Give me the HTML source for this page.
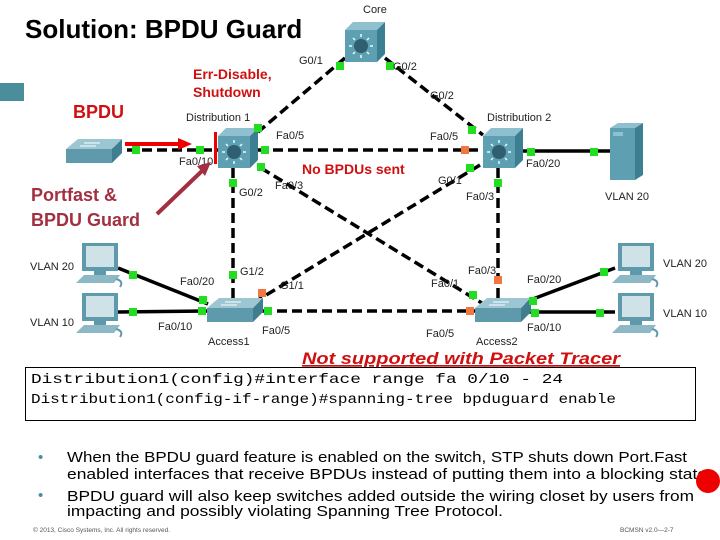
<!DOCTYPE html>
<html><head><meta charset="utf-8"><style>
body{margin:0;background:#fff}
svg{display:block}
text{font-family:"Liberation Sans",sans-serif}
.p{font-size:11px;fill:#222}
</style></head><body>
<svg width="720" height="540" viewBox="0 0 720 540">
<defs>
<g id="ms"><polygon points="0,8 8,0 40,0 32,8" fill="#8fc0cf"/><polygon points="32,8 40,0 40,32 32,40" fill="#3d7f92"/><rect x="0" y="8" width="32" height="32" fill="#5f9fb2"/><circle cx="16" cy="24" r="7" fill="#2f5f70"/><g stroke="#dff" stroke-width="1.5"><line x1="16" y1="12" x2="16" y2="15"/><line x1="16" y1="33" x2="16" y2="36"/><line x1="4" y1="24" x2="7" y2="24"/><line x1="25" y1="24" x2="28" y2="24"/><line x1="8" y1="16" x2="10" y2="18"/><line x1="22" y1="30" x2="24" y2="32"/><line x1="24" y1="16" x2="22" y2="18"/><line x1="8" y1="32" x2="10" y2="30"/></g></g>
<g id="sw"><polygon points="0,10 12,0 56,0 46,10" fill="#9cc6d2"/><rect x="0" y="10" width="46" height="14" fill="#5f9aac"/><polygon points="46,10 56,0 56,14 46,24" fill="#3f7d8f"/><g stroke="#fff" stroke-width="1"><line x1="18" y1="4" x2="34" y2="4"/><line x1="14" y1="7" x2="30" y2="7"/></g></g>
<g id="pc"><rect x="6" y="0" width="36" height="28" fill="#5f9aac"/><rect x="10" y="3" width="28" height="21" fill="#cfe2e8"/><rect x="18" y="28" width="12" height="4" fill="#5f9aac"/><polygon points="0,40 8,32 44,32 38,40" fill="#8db8c6"/><path d="M40,36 q8,2 4,8" stroke="#5f9aac" fill="none" stroke-width="2"/></g>
</defs>
<text x="25" y="38" font-size="26" font-weight="bold">Solution: BPDU Guard</text>
<rect x="0" y="83" width="24" height="18" fill="#4b8e9b"/>
<g stroke="#000" stroke-width="3.5" stroke-dasharray="10,5" fill="none">
<line x1="345" y1="58" x2="258" y2="132"/>
<line x1="385" y1="58" x2="483" y2="135"/>
<line x1="258" y1="150" x2="483" y2="150"/>
<line x1="261" y1="168" x2="485" y2="305"/>
<line x1="480" y1="165" x2="258" y2="300"/>
<line x1="233" y1="168" x2="233" y2="298"/>
<line x1="498" y1="168" x2="498" y2="298"/>
<line x1="262" y1="311" x2="478" y2="311"/>
<line x1="112" y1="150" x2="218" y2="150"/>
</g>
<g stroke="#000" stroke-width="3.5">
<line x1="522" y1="151" x2="612" y2="151"/>
<line x1="118" y1="268" x2="208" y2="304"/>
<line x1="118" y1="312" x2="208" y2="311"/>
<line x1="525" y1="302" x2="615" y2="268"/>
<line x1="525" y1="312" x2="615" y2="312"/>
</g>
<use href="#ms" x="345" y="22"/>
<use href="#ms" x="218" y="128"/>
<use href="#ms" x="483" y="128"/>
<use href="#sw" x="66" y="139"/>
<use href="#sw" x="207" y="298"/>
<use href="#sw" x="475" y="298"/>
<use href="#pc" x="76" y="243"/>
<use href="#pc" x="76" y="293"/>
<use href="#pc" x="612" y="243"/>
<use href="#pc" x="612" y="293"/>
<polygon points="610,128 618,123 643,123 635,128" fill="#8fc0cf"/><rect x="610" y="128" width="25" height="52" fill="#5f9fb2"/><polygon points="635,128 643,123 643,175 635,180" fill="#3d7f92"/><rect x="613" y="132" width="10" height="4" fill="#8fc0cf"/>
<g fill="#22dd22">
<rect x="336" y="62" width="8" height="8"/><rect x="386" y="62" width="8" height="8"/><rect x="254" y="124" width="8" height="8"/><rect x="468" y="126" width="8" height="8"/>
<rect x="261" y="146" width="8" height="8"/><rect x="257" y="163" width="8" height="8"/><rect x="466" y="164" width="8" height="8"/>
<rect x="229" y="179" width="8" height="8"/><rect x="494" y="179" width="8" height="8"/><rect x="229" y="271" width="8" height="8"/>
<rect x="132" y="146" width="8" height="8"/><rect x="196" y="146" width="8" height="8"/>
<rect x="527" y="148" width="8" height="8"/><rect x="590" y="148" width="8" height="8"/>
<rect x="129" y="271" width="8" height="8"/><rect x="199" y="296" width="8" height="8"/><rect x="129" y="308" width="8" height="8"/><rect x="198" y="307" width="8" height="8"/>
<rect x="264" y="307" width="8" height="8"/><rect x="468" y="310" width="8" height="0"/><rect x="469" y="291" width="8" height="8"/>
<rect x="529" y="297" width="8" height="8"/><rect x="600" y="268" width="8" height="8"/><rect x="531" y="309" width="8" height="8"/><rect x="596" y="309" width="8" height="8"/>
</g>
<g fill="#f07840">
<rect x="461" y="146" width="8" height="8"/><rect x="258" y="289" width="8" height="8"/><rect x="494" y="276" width="8" height="8"/><rect x="466" y="307" width="8" height="8"/>
</g>
<g class="p">
<text x="363" y="13">Core</text><text x="299" y="64">G0/1</text><text x="393" y="70">G0/2</text><text x="430" y="99">G0/2</text>
<text x="186" y="121">Distribution 1</text><text x="487" y="121">Distribution 2</text>
<text x="276" y="139">Fa0/5</text><text x="430" y="140">Fa0/5</text><text x="179" y="165">Fa0/10</text>
<text x="275" y="189">Fa0/3</text><text x="239" y="196">G0/2</text><text x="438" y="184">G0/1</text><text x="526" y="167">Fa0/20</text>
<text x="466" y="200">Fa0/3</text><text x="605" y="200">VLAN 20</text>
<text x="30" y="270">VLAN 20</text><text x="30" y="326">VLAN 10</text><text x="180" y="285">Fa0/20</text><text x="158" y="330">Fa0/10</text>
<text x="240" y="275">G1/2</text><text x="280" y="289">G1/1</text><text x="262" y="334">Fa0/5</text><text x="208" y="345">Access1</text>
<text x="468" y="274">Fa0/3</text><text x="431" y="287">Fa0/1</text><text x="527" y="283">Fa0/20</text><text x="527" y="331">Fa0/10</text>
<text x="426" y="337">Fa0/5</text><text x="476" y="345">Access2</text><text x="663" y="267">VLAN 20</text><text x="663" y="317">VLAN 10</text>
</g>
<rect x="214" y="132" width="3" height="32" fill="#e00"/>
<line x1="125" y1="144" x2="180" y2="144" stroke="#e00" stroke-width="4"/><polygon points="178,138 192,144 178,150" fill="#e00"/>
<line x1="157" y1="214" x2="203" y2="170" stroke="#a33040" stroke-width="4"/><polygon points="197,166 211,162 205,176" fill="#a33040"/>
<text x="73" y="118" font-size="18" font-weight="bold" fill="#d01010">BPDU</text>
<text x="193" y="79" font-size="14" font-weight="bold" fill="#d01010">Err-Disable,</text>
<text x="193" y="97" font-size="14" font-weight="bold" fill="#d01010">Shutdown</text>
<text x="302" y="174" font-size="14" font-weight="bold" fill="#d01010">No BPDUs sent</text>
<text x="31" y="201" font-size="18" font-weight="bold" fill="#a33040">Portfast &amp;</text>
<text x="31" y="226" font-size="18" font-weight="bold" fill="#a33040">BPDU Guard</text>
<text x="302" y="364" font-size="17" font-weight="bold" font-style="italic" fill="#d01010" text-decoration="underline" textLength="318" lengthAdjust="spacingAndGlyphs">Not supported with Packet Tracer</text>
<rect x="25.5" y="367.5" width="670" height="53" fill="none" stroke="#000" stroke-width="1"/>
<text x="31" y="383" font-size="14" font-family="Liberation Mono" style="font-family:'Liberation Mono',monospace" textLength="532" lengthAdjust="spacingAndGlyphs">Distribution1(config)#interface range fa 0/10 - 24</text>
<text x="31" y="403" font-size="14" style="font-family:'Liberation Mono',monospace" textLength="585" lengthAdjust="spacingAndGlyphs">Distribution1(config-if-range)#spanning-tree bpduguard enable</text>
<g font-size="15" fill="#000">
<text x="38" y="462" fill="#4b8e9b">•</text><text x="38" y="500" fill="#4b8e9b">•</text>
<text x="67" y="462" textLength="620" lengthAdjust="spacingAndGlyphs">When the BPDU guard feature is enabled on the switch, STP shuts down Port.Fast</text>
<text x="67" y="479" textLength="640" lengthAdjust="spacingAndGlyphs">enabled interfaces that receive BPDUs instead of putting them into a blocking state</text>
<text x="67" y="501" textLength="627" lengthAdjust="spacingAndGlyphs">BPDU guard will also keep switches added outside the wiring closet by users from</text>
<text x="67" y="516" textLength="436" lengthAdjust="spacingAndGlyphs">impacting and possibly violating Spanning Tree Protocol.</text>
</g>
<circle cx="708" cy="481" r="12" fill="#e00"/>
<text x="33" y="532" font-size="6.5" fill="#555">© 2013, Cisco Systems, Inc. All rights reserved.</text>
<text x="620" y="532" font-size="6.5" fill="#555">BCMSN v2.0—2-7</text>
</svg>
</body></html>
